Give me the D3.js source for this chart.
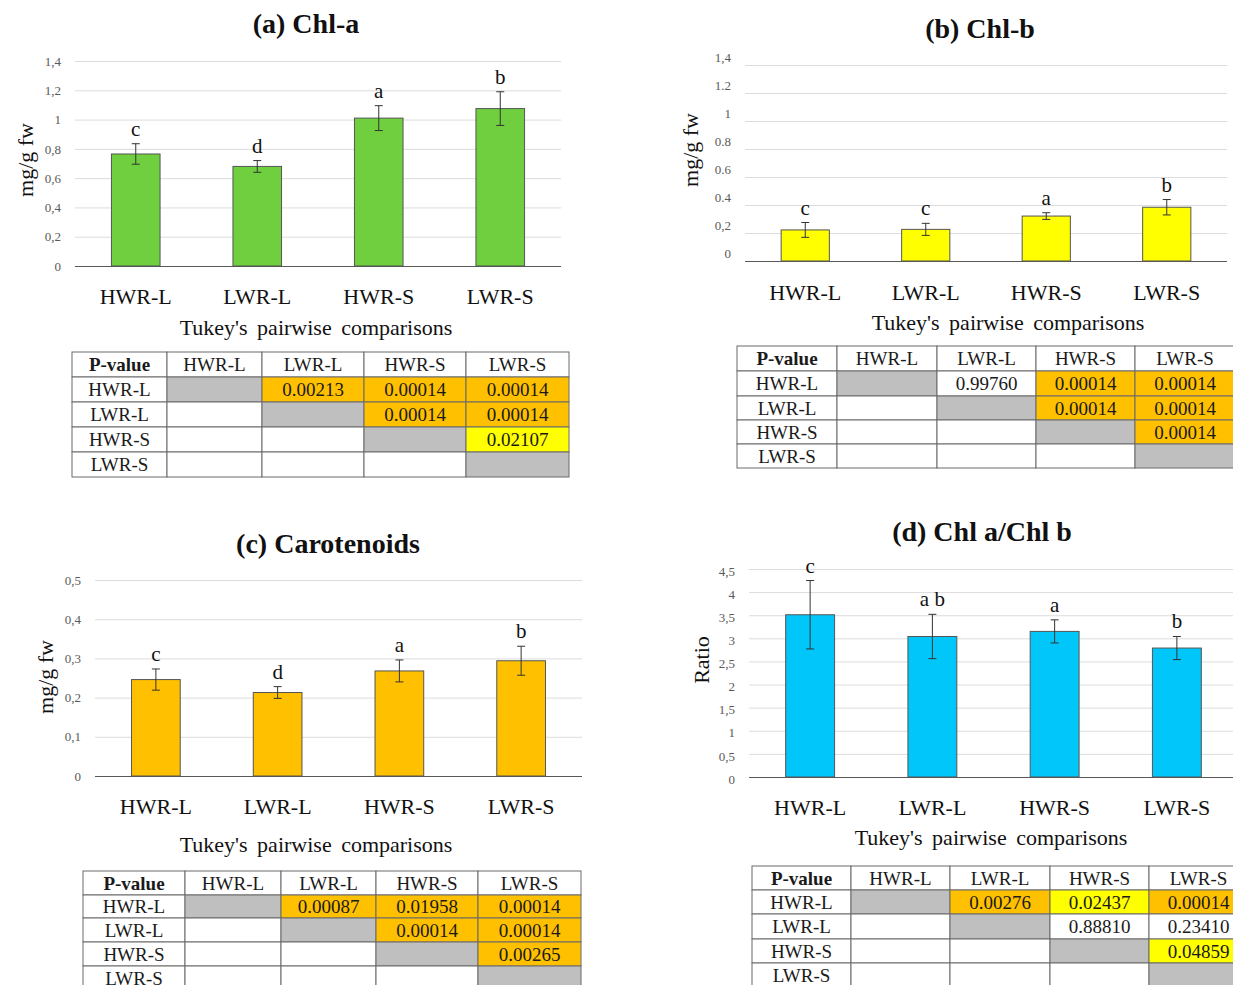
<!DOCTYPE html>
<html>
<head>
<meta charset="utf-8">
<script src="https://cdn.jsdelivr.net/npm/d3@7"></script>
<style>
  body { margin: 0; background: #fff; }
  svg { display: block; font-family: "Liberation Serif", "DejaVu Serif", serif; }
  .tick text { fill: #5a5a5a; }
</style>
</head>
<body>
<div id="chart"></div>
<script>
// ---- data ----
var categories = ["HWR-L", "LWR-L", "HWR-S", "LWR-S"];

var chlAMeans = [0.765, 0.68, 1.01, 1.075];
var chlAErr = [0.07, 0.04, 0.085, 0.115];
var chlALetters = ["c", "d", "a", "b"];
var chlATicks = [0, 0.2, 0.4, 0.6, 0.8, 1, 1.2, 1.4];
var chlATickLabels = ["0", "0,2", "0,4", "0,6", "0,8", "1", "1,2", "1,4"];

var chlBMeans = [0.222, 0.226, 0.321, 0.384];
var chlBErr = [0.053, 0.043, 0.024, 0.055];
var chlBLetters = ["c", "c", "a", "b"];
var chlBTicks = [0, 0.2, 0.4, 0.6, 0.8, 1, 1.2, 1.4];
var chlBTickLabels = ["0", "0,2", "0.4", "0.6", "0.8", "1", "1.2", "1,4"];

var carMeans = [0.246, 0.213, 0.268, 0.294];
var carErr = [0.027, 0.015, 0.028, 0.037];
var carLetters = ["c", "d", "a", "b"];
var carTicks = [0, 0.1, 0.2, 0.3, 0.4, 0.5];
var carTickLabels = ["0", "0,1", "0,2", "0,3", "0,4", "0,5"];

var ratioMeans = [3.51, 3.04, 3.15, 2.79];
var ratioErr = [0.74, 0.48, 0.25, 0.25];
var ratioLetters = ["c", "a b", "a", "b"];
var ratioTicks = [0, 0.5, 1, 1.5, 2, 2.5, 3, 3.5, 4, 4.5];
var ratioTickLabels = ["0", "0,5", "1", "1,5", "2", "2,5", "3", "3,5", "4", "4,5"];

// Tukey p-values (upper triangle), o = orange highlight, y = yellow highlight
var chlAP = [["", "0.00213", "0.00014", "0.00014"], ["", "", "0.00014", "0.00014"], ["", "", "", "0.02107"], ["", "", "", ""]];
var chlAMark = [["", "o", "o", "o"], ["", "", "o", "o"], ["", "", "", "y"], ["", "", "", ""]];
var chlBP = [["", "0.99760", "0.00014", "0.00014"], ["", "", "0.00014", "0.00014"], ["", "", "", "0.00014"], ["", "", "", ""]];
var chlBMark = [["", "", "o", "o"], ["", "", "o", "o"], ["", "", "", "o"], ["", "", "", ""]];
var carP = [["", "0.00087", "0.01958", "0.00014"], ["", "", "0.00014", "0.00014"], ["", "", "", "0.00265"], ["", "", "", ""]];
var carMark = [["", "o", "o", "o"], ["", "", "o", "o"], ["", "", "", "o"], ["", "", "", ""]];
var ratioP = [["", "0.00276", "0.02437", "0.00014"], ["", "", "0.88810", "0.23410"], ["", "", "", "0.04859"], ["", "", "", ""]];
var ratioMark = [["", "o", "y", "o"], ["", "", "", ""], ["", "", "", "y"], ["", "", "", ""]];

var markColour = { o: "#ffc000", y: "#ffff00", "": "#ffffff" };

var svg = d3.select("#chart").append("svg")
  .attr("width", 1233)
  .attr("height", 985);

var panels = [
  { title: "(a) Chl-a", means: chlAMeans, err: chlAErr, letters: chlALetters, ticks: chlATicks, tickLabels: chlATickLabels,
    ylabel: "mg/g fw", colour: "#6fcf3f", pv: chlAP, mark: chlAMark,
    x0: 75, x1: 561, yTop: 61, yBase: 266, tickDy: 0, titleX: 306, titleY: 33, ylx: 25, yly: 160,
    catY: 303, tukeyX: 316, tukeyY: 335,
    cols: [72, 167, 262, 364, 466, 569], rows: [352, 377, 402, 427, 452, 477] },
  { title: "(b) Chl-b", means: chlBMeans, err: chlBErr, letters: chlBLetters, ticks: chlBTicks, tickLabels: chlBTickLabels,
    ylabel: "mg/g fw", colour: "#ffff00", pv: chlBP, mark: chlBMark,
    x0: 745, x1: 1227, yTop: 65, yBase: 261, tickDy: -8, titleX: 980, titleY: 38, ylx: 690, yly: 150,
    catY: 299, tukeyX: 1008, tukeyY: 330,
    cols: [737, 837, 937, 1036, 1135, 1235], rows: [346, 371, 396, 420, 444, 468] },
  { title: "(c) Carotenoids", means: carMeans, err: carErr, letters: carLetters, ticks: carTicks, tickLabels: carTickLabels,
    ylabel: "mg/g fw", colour: "#ffc000", pv: carP, mark: carMark,
    x0: 95, x1: 582, yTop: 580, yBase: 776, tickDy: 0, titleX: 328, titleY: 553, ylx: 45, yly: 677,
    catY: 813, tukeyX: 316, tukeyY: 852,
    cols: [83, 185, 281, 376, 478, 581], rows: [871, 895, 918, 942, 966, 990] },
  { title: "(d) Chl a/Chl b", means: ratioMeans, err: ratioErr, letters: ratioLetters, ticks: ratioTicks, tickLabels: ratioTickLabels,
    ylabel: "Ratio", colour: "#00c6fa", pv: ratioP, mark: ratioMark,
    x0: 749, x1: 1238, yTop: 569, yBase: 777, tickDy: 2, titleX: 982, titleY: 541, ylx: 701, yly: 660,
    catY: 814, tukeyX: 991, tukeyY: 845,
    cols: [752, 851, 950, 1050, 1149, 1248], rows: [866, 890, 914, 939, 963, 987] }
];

panels.forEach(function(p) {
  var g = svg.append("g");
  var x = d3.scaleBand().domain(categories).range([p.x0, p.x1]).paddingInner(0.6).paddingOuter(0.3);
  var y = d3.scaleLinear().domain([0, d3.max(p.ticks)]).range([p.yBase, p.yTop]);

  // gridlines + y tick labels
  var ya = g.append("g")
    .attr("transform", "translate(" + p.x0 + ",0)")
    .call(d3.axisLeft(y).tickValues(p.ticks).tickSize(-(p.x1 - p.x0)).tickPadding(14)
      .tickFormat(function(d, i) { return p.tickLabels[i]; }))
    .attr("font-family", null).attr("font-size", null);
  ya.select(".domain").remove();
  ya.selectAll(".tick line").attr("stroke", "#dcdcdc");
  ya.selectAll(".tick text").style("font-size", "13px").attr("dy", (0.32 + p.tickDy / 13) + "em");

  // baseline + category labels
  var xa = g.append("g")
    .attr("transform", "translate(0," + p.yBase + ")")
    .call(d3.axisBottom(x).tickSize(0).tickPadding(p.catY - p.yBase - 15))
    .attr("font-family", null).attr("font-size", null);
  xa.select(".domain").attr("stroke", "#595959").attr("d", "M" + p.x0 + ",0.5H" + p.x1);
  xa.selectAll(".tick text").style("font-size", "22px").style("fill", "#111");

  // bars
  g.selectAll(".bar").data(p.means).enter().append("rect")
    .attr("x", function(d, i) { return x(categories[i]); })
    .attr("y", function(d) { return y(d); })
    .attr("width", x.bandwidth())
    .attr("height", function(d) { return p.yBase - y(d); })
    .attr("fill", p.colour)
    .attr("stroke", "#555")
    .attr("stroke-width", 1);

  // error bars + group letters
  p.means.forEach(function(m, i) {
    var cx = x(categories[i]) + x.bandwidth() / 2;
    var e = p.err[i];
    var eg = g.append("g").attr("stroke", "#333").attr("stroke-width", 1);
    eg.append("line").attr("x1", cx).attr("x2", cx).attr("y1", y(m + e)).attr("y2", y(m - e));
    eg.append("line").attr("x1", cx - 4).attr("x2", cx + 4).attr("y1", y(m + e)).attr("y2", y(m + e));
    eg.append("line").attr("x1", cx - 4).attr("x2", cx + 4).attr("y1", y(m - e)).attr("y2", y(m - e));
    g.append("text")
      .attr("x", cx).attr("y", y(m + e) - 8)
      .attr("text-anchor", "middle")
      .style("font-size", "21px").style("fill", "#111")
      .text(p.letters[i]);
  });

  // titles
  g.append("text").attr("x", p.titleX).attr("y", p.titleY).attr("text-anchor", "middle")
    .style("font-size", "28px").style("font-weight", "bold").style("fill", "#111").text(p.title);
  g.append("text").attr("transform", "translate(" + p.ylx + "," + p.yly + ") rotate(-90)")
    .attr("text-anchor", "middle").attr("dy", "0.35em")
    .style("font-size", "22px").style("fill", "#111").text(p.ylabel);
  g.append("text").attr("x", p.tukeyX).attr("y", p.tukeyY).attr("text-anchor", "middle")
    .style("font-size", "22px").style("fill", "#111").style("word-spacing", "4px")
    .text("Tukey's pairwise comparisons");

  // p-value table
  var t = g.append("g");
  var header = ["P-value"].concat(categories);
  for (var r = 0; r < 5; r++) {
    for (var c = 0; c < 5; c++) {
      var fill = "#ffffff";
      var txt = "";
      if (r === 0) { txt = header[c]; }
      else if (c === 0) { txt = categories[r - 1]; }
      else {
        txt = p.pv[r - 1][c - 1];
        fill = (r === c) ? "#bfbfbf" : markColour[p.mark[r - 1][c - 1]];
      }
      t.append("rect")
        .attr("x", p.cols[c]).attr("y", p.rows[r])
        .attr("width", p.cols[c + 1] - p.cols[c]).attr("height", p.rows[r + 1] - p.rows[r])
        .attr("fill", fill).attr("stroke", "#6a6a6a").attr("stroke-width", 1);
      t.append("text")
        .attr("x", (p.cols[c] + p.cols[c + 1]) / 2)
        .attr("y", (p.rows[r] + p.rows[r + 1]) / 2)
        .attr("dy", "0.35em").attr("text-anchor", "middle")
        .style("font-size", "19px").style("fill", "#1a1a1a")
        .style("font-weight", (r === 0 && c === 0) ? "bold" : "normal")
        .text(txt);
    }
  }
});
</script>
</body>
</html>
